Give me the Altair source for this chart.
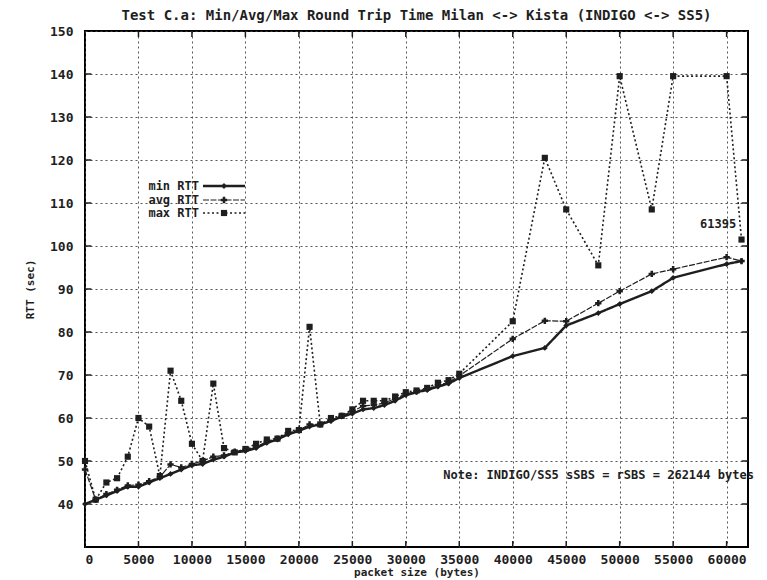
import altair as alt
import pandas as pd

# ---------------- data ----------------
packet_size = [0, 1000, 2000, 3000, 4000, 5000, 6000, 7000, 8000, 9000,
               10000, 11000, 12000, 13000, 14000, 15000, 16000, 17000, 18000, 19000,
               20000, 21000, 22000, 23000, 24000, 25000, 26000, 27000, 28000, 29000,
               30000, 31000, 32000, 33000, 34000, 35000,
               40000, 43000, 45000, 48000, 50000, 53000, 55000, 60000, 61395]

rtt_min = [40, 41, 42, 43, 44, 44, 45, 46, 47, 48,
           49, 49.3, 50.3, 51, 52, 52.3, 53, 54.2, 55, 56.2,
           57, 58, 58.5, 59.3, 60.3, 61, 62, 62.3, 63, 64,
           65.3, 66, 66.5, 67.3, 68, 69.3,
           74.4, 76.3, 81.5, 84.4, 86.5, 89.5, 92.6, 95.8, 96.5]

rtt_avg = [48, 41, 42.3, 43.3, 44.3, 44.5, 45.3, 46.3, 49.2, 48.5,
           49.3, 50, 51, 51.3, 52.2, 52.6, 53.3, 54.5, 55.2, 56.5,
           57.2, 58.5, 58.5, 59.5, 60.5, 61.5, 62.8, 63, 63.5, 64.5,
           65.6, 66.2, 66.8, 67.6, 68.3, 69.8,
           78.4, 82.6, 82.5, 86.7, 89.5, 93.5, 94.6, 97.4, 96.5]

rtt_max = [50, 41, 45, 46, 51, 60, 58, 46.5, 71, 64,
           54, 50, 68, 53, 52, 52.8, 54, 55, 55.2, 57,
           57.2, 81.2, 58.5, 60, 60.5, 62, 64, 64, 64, 65,
           66, 66.4, 67, 68.2, 68.8, 70.3,
           82.5, 120.5, 108.5, 95.5, 139.5, 108.5, 139.5, 139.5, 101.5]

series_names = ["min RTT", "avg RTT", "max RTT"]
x_ticks = list(range(0, 60001, 5000))
y_ticks = list(range(40, 151, 10))

title_text = "Test C.a: Min/Avg/Max Round Trip Time Milan <-> Kista (INDIGO <-> SS5)"
note_text = "Note: INDIGO/SS5 sSBS = rSBS = 262144 bytes"
point_label = "61395"

# ---------------- build table ----------------
rows = []
for name, vals in zip(series_names, [rtt_min, rtt_avg, rtt_max]):
    for s, v in zip(packet_size, vals):
        rows.append({"size": s, "rtt": v, "series": name})
df = pd.DataFrame(rows)

FONT = "DejaVu Sans Mono"
INK = "#1e1e1e"
X_MAX = 62000

x_scale = alt.Scale(domain=[0, X_MAX], nice=False, zero=False)
y_scale = alt.Scale(domain=[30, 150], nice=False, zero=False)
x_enc = alt.X("size:Q", scale=x_scale,
              axis=alt.Axis(values=x_ticks, format="d", title="packet size (bytes)",
                            grid=True, ticks=False, domain=False, labelPadding=6,
                            titlePadding=0))
y_enc = alt.Y("rtt:Q", scale=y_scale,
              axis=alt.Axis(values=y_ticks, title="RTT (sec)", grid=True, ticks=False,
                            domain=False, labelPadding=12, titlePadding=14))

styles = {
    "min RTT": dict(strokeWidth=2.4, dash=[1, 0], shape="diamond", size=34),
    "avg RTT": dict(strokeWidth=1.2, dash=[6, 1.5], shape="cross", size=40),
    "max RTT": dict(strokeWidth=1.6, dash=[2, 2.5], shape="square", size=38),
}

layers = []

# gnuplot-style inward tick marks (left/right for y, bottom/top for x)
yt = pd.DataFrame({"rtt": y_ticks[:-1]})
xt = pd.DataFrame({"size": x_ticks[1:]})
tick_len_x = 600    # in data units along x (~6 px)
tick_len_y = 1.4    # in data units along y (~6 px)
layers.append(alt.Chart(yt).mark_rule(color=INK, strokeWidth=1.5).encode(
    y=alt.Y("rtt:Q", scale=y_scale), x=alt.datum(0), x2=alt.datum(tick_len_x)))
layers.append(alt.Chart(yt).mark_rule(color=INK, strokeWidth=1.5).encode(
    y=alt.Y("rtt:Q", scale=y_scale), x=alt.datum(X_MAX - tick_len_x), x2=alt.datum(X_MAX)))
layers.append(alt.Chart(xt).mark_rule(color=INK, strokeWidth=1.5).encode(
    x=alt.X("size:Q", scale=x_scale), y=alt.datum(30), y2=alt.datum(30 + tick_len_y)))
layers.append(alt.Chart(xt).mark_rule(color=INK, strokeWidth=1.5).encode(
    x=alt.X("size:Q", scale=x_scale), y=alt.datum(150 - tick_len_y), y2=alt.datum(150)))

for name in series_names:
    st = styles[name]
    sub = df[df["series"] == name]
    line = alt.Chart(sub).mark_line(color=INK, strokeWidth=st["strokeWidth"],
                                    strokeDash=st["dash"]).encode(x=x_enc, y=y_enc)
    pts = alt.Chart(sub).mark_point(shape=st["shape"], size=st["size"], filled=True,
                                    color=INK, opacity=1).encode(x=x_enc, y=y_enc)
    layers += [line, pts]

ann = pd.DataFrame({"size": [33500], "rtt": [46.7], "label": [note_text]})
note = alt.Chart(ann).mark_text(align="left", baseline="middle", font=FONT,
                                fontWeight="bold", fontSize=12, color=INK).encode(
    x=x_enc, y=y_enc, text="label:N")
lab = pd.DataFrame({"size": [60900], "rtt": [105.2], "label": [point_label]})
lab_mark = alt.Chart(lab).mark_text(align="right", baseline="middle", font=FONT,
                                    fontWeight="bold", fontSize=12, color=INK).encode(
    x=x_enc, y=y_enc, text="label:N")
layers += [note, lab_mark]

# ---------------- hand-made gnuplot-style key (pixel positions in plot area) ----------------
one = pd.DataFrame({"k": [0]})
key_y = {"min RTT": 155, "avg RTT": 169, "max RTT": 182}
for name in series_names:
    st = styles[name]
    yy = key_y[name]
    layers.append(alt.Chart(one).mark_text(align="right", baseline="middle", font=FONT,
                                           fontWeight="bold", fontSize=12, color=INK).encode(
        x=alt.value(114), y=alt.value(yy), text=alt.value(name)))
    layers.append(alt.Chart(one).mark_rule(color=INK, strokeWidth=st["strokeWidth"],
                                           strokeDash=st["dash"]).encode(
        x=alt.value(118), x2=alt.value(160), y=alt.value(yy)))
    layers.append(alt.Chart(one).mark_point(shape=st["shape"], size=st["size"], filled=True,
                                            color=INK, opacity=1).encode(
        x=alt.value(139), y=alt.value(yy)))

chart = alt.layer(*layers).properties(
    width=663, height=516,
    autosize=alt.AutoSizeParams(type="none"),
    padding={"left": 77, "top": 23, "right": 11, "bottom": 33},
    title=alt.Title(title_text, font=FONT, fontSize=14, fontWeight="bold", color=INK,
                    anchor="middle", offset=2),
).configure_view(
    stroke="black", strokeWidth=2
).configure_axis(
    labelFont=FONT, labelFontSize=13, labelFontWeight="bold", labelColor=INK,
    titleFont=FONT, titleFontSize=11, titleFontWeight="bold", titleColor=INK,
    gridColor="#444", gridDash=[2, 3], gridWidth=1, gridOpacity=0.9
)

chart.save("out.html", embed_options={"renderer": "svg", "actions": False})
